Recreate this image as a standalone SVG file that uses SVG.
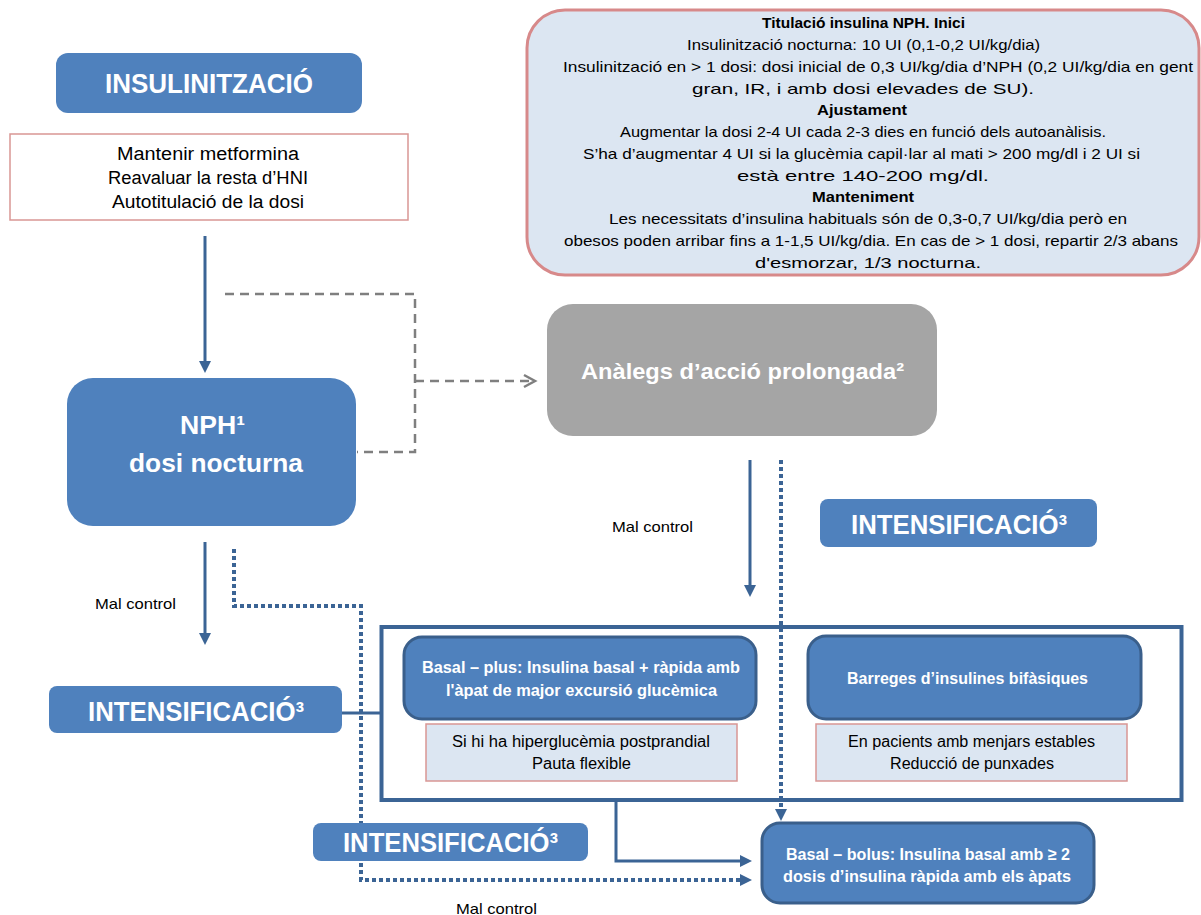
<svg xmlns="http://www.w3.org/2000/svg" width="1201" height="915" viewBox="0 0 1201 915">
<style>
.blue{fill:#4f81bd}
.blues{fill:#4f81bd;stroke:#3a5f8b;stroke-width:3}
.gray{fill:#a5a5a5}
.pinkw{fill:#ffffff;stroke:#d99694;stroke-width:1.5}
.pinkl{fill:#dce6f2;stroke:#d99694;stroke-width:1.5}
.wt{fill:#ffffff;font-family:"Liberation Sans",Arial,sans-serif;font-weight:bold}
.bt{fill:#000000;font-family:"Liberation Sans",Arial,sans-serif}
.bb{font-weight:bold}
.sol{fill:none;stroke:#3b6495;stroke-width:3}
.dot{fill:none;stroke:#3b6495;stroke-width:4;stroke-dasharray:4 3}
.dash{fill:none;stroke:#7f7f7f;stroke-width:2.5;stroke-dasharray:9 6}
</style>
<defs>
<marker id="ah" markerWidth="12" markerHeight="12" refX="2" refY="6" orient="auto" markerUnits="userSpaceOnUse">
<path d="M0,0 L12,6 L0,12 z" fill="#3b6495"/>
</marker>
</defs>

<g id="connectors">
<line class="sol" x1="205" y1="236" x2="205" y2="363" marker-end="url(#ah)"/>
<path class="dash" d="M225,294 H415 V452 H357"/>
<path class="dash" d="M415,381 H532"/>
<polyline points="524,375 535,381 524,387" fill="none" stroke="#7f7f7f" stroke-width="2.5"/>
<line class="sol" x1="205" y1="542" x2="205" y2="635" marker-end="url(#ah)"/>
<path class="dot" d="M234,549 V606 H361 V880 H742" marker-end="url(#ah)"/>
<line class="sol" x1="342" y1="713" x2="381" y2="713"/>
<line class="sol" x1="750" y1="460" x2="750" y2="587" marker-end="url(#ah)"/>
<path class="dot" d="M781,460 V811" marker-end="url(#ah)"/>
<path class="sol" d="M616,801 V861 H742" marker-end="url(#ah)"/>
</g>

<g id="info-box">
<rect x="527" y="10" width="672" height="265" rx="38" fill="#dce6f2" stroke="#d7898a" stroke-width="3"/>
<text class="bt" font-size="15">
<tspan class="bb" x="762" y="28" textLength="203" lengthAdjust="spacingAndGlyphs">Titulació insulina NPH. Inici</tspan>
<tspan x="687" y="50" textLength="353" lengthAdjust="spacingAndGlyphs">Insulinització nocturna: 10 UI (0,1-0,2 UI/kg/dia)</tspan>
<tspan x="563" y="72" textLength="630" lengthAdjust="spacingAndGlyphs">Insulinització en &gt; 1 dosi: dosi inicial de 0,3 UI/kg/dia d’NPH (0,2 UI/kg/dia en gent</tspan>
<tspan x="692" y="94" textLength="342" lengthAdjust="spacingAndGlyphs">gran, IR, i amb dosi elevades de SU).</tspan>
<tspan class="bb" x="817" y="115" textLength="90" lengthAdjust="spacingAndGlyphs">Ajustament</tspan>
<tspan x="620" y="137" textLength="486" lengthAdjust="spacingAndGlyphs">Augmentar la dosi 2-4 UI cada 2-3 dies en funció dels autoanàlisis.</tspan>
<tspan x="583" y="159" textLength="557" lengthAdjust="spacingAndGlyphs">S’ha d’augmentar 4 UI si la glucèmia capil·lar al mati &gt; 200 mg/dl i 2 UI si</tspan>
<tspan x="737" y="181" textLength="252" lengthAdjust="spacingAndGlyphs">està entre 140-200 mg/dl.</tspan>
<tspan class="bb" x="812" y="202" textLength="102" lengthAdjust="spacingAndGlyphs">Manteniment</tspan>
<tspan x="609" y="224" textLength="518" lengthAdjust="spacingAndGlyphs">Les necessitats d’insulina habituals són de 0,3-0,7 UI/kg/dia però en</tspan>
<tspan x="564" y="246" textLength="614" lengthAdjust="spacingAndGlyphs">obesos poden arribar fins a 1-1,5 UI/kg/dia. En cas de &gt; 1 dosi, repartir 2/3 abans</tspan>
<tspan x="755" y="268" textLength="226" lengthAdjust="spacingAndGlyphs">d'esmorzar, 1/3 nocturna.</tspan>
</text>
</g>

<g id="insulinitzacio">
<rect class="blue" x="56" y="53" width="306" height="60" rx="12"/>
<text class="wt" x="105" y="93" font-size="28" textLength="208" lengthAdjust="spacingAndGlyphs">INSULINITZACIÓ</text>
</g>

<g id="mantenir">
<rect class="pinkw" x="10" y="134" width="398" height="86"/>
<text class="bt" font-size="18">
<tspan x="117" y="160" textLength="182" lengthAdjust="spacingAndGlyphs">Mantenir metformina</tspan>
<tspan x="108" y="184" textLength="200" lengthAdjust="spacingAndGlyphs">Reavaluar la resta d’HNI</tspan>
<tspan x="112" y="208" textLength="192" lengthAdjust="spacingAndGlyphs">Autotitulació de la dosi</tspan>
</text>
</g>

<g id="nph">
<rect class="blue" x="67" y="378" width="289" height="148" rx="26"/>
<text class="wt" x="180" y="434" font-size="26" textLength="65" lengthAdjust="spacingAndGlyphs">NPH¹</text>
<text class="wt" x="129" y="472" font-size="26" textLength="174" lengthAdjust="spacingAndGlyphs">dosi nocturna</text>
</g>

<g id="analegs">
<rect class="gray" x="547" y="304" width="390" height="132" rx="26"/>
<text class="wt" x="581" y="379" font-size="22" textLength="323" lengthAdjust="spacingAndGlyphs">Anàlegs d’acció prolongada²</text>
</g>

<g id="mal-control-1">
<text class="bt" x="612" y="532" font-size="15" textLength="81" lengthAdjust="spacingAndGlyphs">Mal control</text>
</g>
<g id="mal-control-2">
<text class="bt" x="95" y="609" font-size="15" textLength="81" lengthAdjust="spacingAndGlyphs">Mal control</text>
</g>
<g id="mal-control-3">
<text class="bt" x="456" y="914" font-size="15" textLength="81" lengthAdjust="spacingAndGlyphs">Mal control</text>
</g>

<g id="intensificacio-top">
<rect class="blue" x="820" y="499" width="277" height="48" rx="8"/>
<text class="wt" x="851" y="534" font-size="27" textLength="216" lengthAdjust="spacingAndGlyphs">INTENSIFICACIÓ³</text>
</g>

<g id="intensificacio-left">
<rect class="blue" x="49" y="686" width="293" height="47" rx="8"/>
<text class="wt" x="88" y="721" font-size="27" textLength="216" lengthAdjust="spacingAndGlyphs">INTENSIFICACIÓ³</text>
</g>

<g id="intensificacio-bottom">
<rect class="blue" x="313" y="823" width="275" height="38" rx="8"/>
<text class="wt" x="343" y="852" font-size="27" textLength="215" lengthAdjust="spacingAndGlyphs">INTENSIFICACIÓ³</text>
</g>

<g id="intensification-group">
<rect x="381.5" y="627" width="800" height="173" fill="none" stroke="#3b6495" stroke-width="4"/>
</g>

<g id="basal-plus">
<rect class="blues" x="404" y="637" width="352" height="82" rx="18"/>
<text class="wt" font-size="16">
<tspan x="422" y="673" textLength="318" lengthAdjust="spacingAndGlyphs">Basal – plus: Insulina basal + ràpida amb</tspan>
<tspan x="446" y="696" textLength="271" lengthAdjust="spacingAndGlyphs">l'àpat de major excursió glucèmica</tspan>
</text>
</g>

<g id="basal-plus-note">
<rect class="pinkl" x="426" y="724" width="311" height="57"/>
<text class="bt" font-size="16">
<tspan x="452" y="747" textLength="258" lengthAdjust="spacingAndGlyphs">Si hi ha hiperglucèmia postprandial</tspan>
<tspan x="532" y="769" textLength="99" lengthAdjust="spacingAndGlyphs">Pauta flexible</tspan>
</text>
</g>

<g id="barreges">
<rect class="blues" x="808" y="636" width="333" height="83" rx="18"/>
<text class="wt" x="847" y="684" font-size="16" textLength="241" lengthAdjust="spacingAndGlyphs">Barreges d’insulines bifàsiques</text>
</g>

<g id="barreges-note">
<rect class="pinkl" x="816" y="724" width="311" height="57"/>
<text class="bt" font-size="16">
<tspan x="848" y="747" textLength="247" lengthAdjust="spacingAndGlyphs">En pacients amb menjars estables</tspan>
<tspan x="890" y="769" textLength="164" lengthAdjust="spacingAndGlyphs">Reducció de punxades</tspan>
</text>
</g>

<g id="basal-bolus">
<rect class="blues" x="762" y="823" width="332" height="80" rx="18"/>
<text class="wt" font-size="17">
<tspan x="786" y="860" textLength="284" lengthAdjust="spacingAndGlyphs">Basal – bolus: Insulina basal amb ≥ 2</tspan>
<tspan x="783" y="882" textLength="288" lengthAdjust="spacingAndGlyphs">dosis d’insulina ràpida amb els àpats</tspan>
</text>
</g>
</svg>
